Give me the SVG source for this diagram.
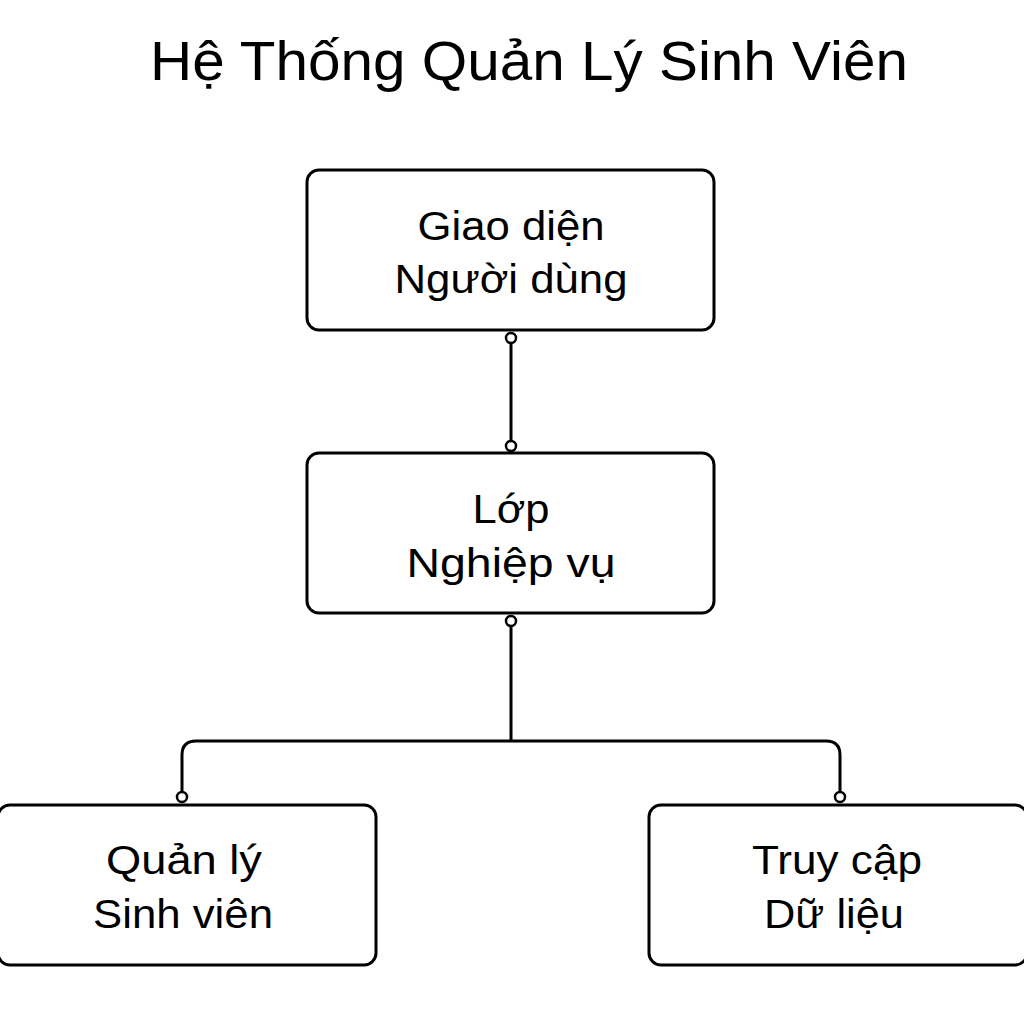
<svg xmlns="http://www.w3.org/2000/svg" width="1024" height="1024" viewBox="0 0 1024 1024">
<style>
.box{fill:#fff;stroke:#000;stroke-width:3}
.lbl{font-family:"Liberation Sans",Arial,sans-serif;font-size:41px;text-anchor:middle;fill:#000}
.title{font-family:"Liberation Sans",Arial,sans-serif;font-size:55px;text-anchor:middle;fill:#000}
.conn{fill:none;stroke:#000;stroke-width:3}
.dot{fill:#fff;stroke:#000;stroke-width:2.5}
</style>
<rect width="1024" height="1024" fill="#fff"/>
<text class="title" x="529" y="80" textLength="758" lengthAdjust="spacingAndGlyphs">Hệ Thống Quản Lý Sinh Viên</text>
<g id="connectors">
<line class="conn" x1="511" y1="342" x2="511" y2="442"/>
<path class="conn" d="M511 626 V741 M182 793 V755 Q182 741 196 741 H826 Q840 741 840 755 V793"/>
<circle class="dot" cx="511" cy="338" r="5"/>
<circle class="dot" cx="511" cy="446" r="5"/>
<circle class="dot" cx="511" cy="621" r="5"/>
<circle class="dot" cx="182" cy="797" r="5"/>
<circle class="dot" cx="840" cy="797" r="5"/>
</g>
<g id="ui">
<rect class="box" x="307" y="170" width="407" height="160" rx="12"/>
<text class="lbl" x="511" y="240" textLength="187" lengthAdjust="spacingAndGlyphs">Giao diện</text>
<text class="lbl" x="511" y="293" textLength="233" lengthAdjust="spacingAndGlyphs">Người dùng</text>
</g>
<g id="business">
<rect class="box" x="307" y="453" width="407" height="160" rx="12"/>
<text class="lbl" x="511" y="523" textLength="77" lengthAdjust="spacingAndGlyphs">Lớp</text>
<text class="lbl" x="511" y="577" textLength="209" lengthAdjust="spacingAndGlyphs">Nghiệp vụ</text>
</g>
<g id="student">
<rect class="box" x="-2" y="805" width="378" height="160" rx="12"/>
<text class="lbl" x="184" y="874" textLength="156" lengthAdjust="spacingAndGlyphs">Quản lý</text>
<text class="lbl" x="183" y="928" textLength="180" lengthAdjust="spacingAndGlyphs">Sinh viên</text>
</g>
<g id="data">
<rect class="box" x="649" y="805" width="378" height="160" rx="12"/>
<text class="lbl" x="837" y="874" textLength="170" lengthAdjust="spacingAndGlyphs">Truy cập</text>
<text class="lbl" x="834" y="928" textLength="140" lengthAdjust="spacingAndGlyphs">Dữ liệu</text>
</g>
</svg>
